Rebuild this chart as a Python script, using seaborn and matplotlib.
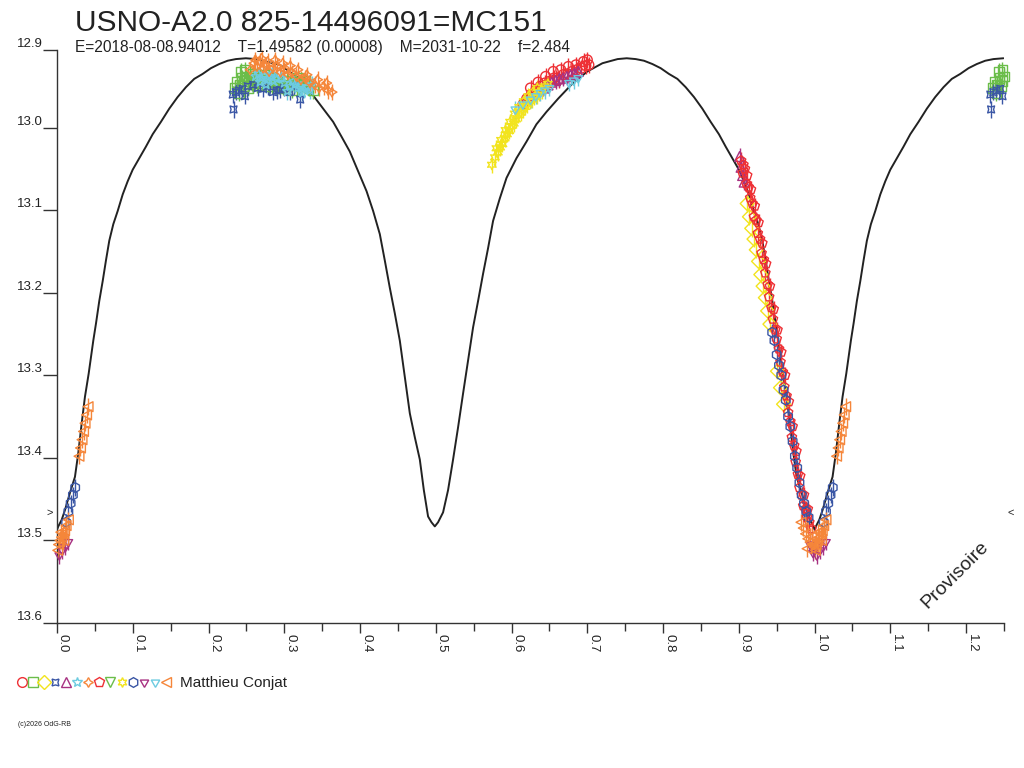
import pandas as pd
import seaborn as sns
import matplotlib.pyplot as plt
from matplotlib.lines import Line2D
from matplotlib.ticker import MultipleLocator, FormatStrFormatter, FixedLocator, FixedFormatter

# model light curve over one cycle (phase, magnitude)
curve_phase = [0.0000, 0.0017, 0.0062, 0.0106, 0.0172, 0.0237, 0.0281, 0.0326, 0.0369, 0.0418,
               0.0449, 0.0479, 0.0515, 0.0558, 0.0603, 0.0646, 0.0690, 0.0743, 0.0801, 0.0867,
               0.0933, 0.0999, 0.1086, 0.1174, 0.1263, 0.1372, 0.1482, 0.1592, 0.1702, 0.1811,
               0.1922, 0.2032, 0.2141, 0.2252, 0.2361, 0.2493, 0.2625, 0.2942, 0.3206, 0.3381,
               0.3513, 0.3645, 0.3756, 0.3865, 0.3975, 0.4086, 0.4173, 0.4261, 0.4327, 0.4393,
               0.4459, 0.4525, 0.4591, 0.4657, 0.4723, 0.4789, 0.4842, 0.4898, 0.4943, 0.4987,
               0.5030, 0.5096, 0.5162, 0.5228, 0.5294, 0.5360, 0.5426, 0.5492, 0.5558, 0.5624,
               0.5690, 0.5756, 0.5844, 0.5933, 0.6065, 0.6197, 0.6328, 0.6460, 0.6614, 0.6800,
               0.7000, 0.7200, 0.7400, 0.7520, 0.7639, 0.7748, 0.7859, 0.7968, 0.8078, 0.8189,
               0.8298, 0.8408, 0.8518, 0.8628, 0.8737, 0.8826, 0.8914, 0.9001, 0.9067, 0.9133,
               0.9199, 0.9257, 0.9310, 0.9354, 0.9397, 0.9442, 0.9485, 0.9521, 0.9551, 0.9582,
               0.9631, 0.9674, 0.9719, 0.9763, 0.9828, 0.9894, 0.9938, 0.9983, 1.0000]
curve_mag = [13.487, 13.483, 13.475, 13.463, 13.442, 13.423, 13.394, 13.358, 13.326, 13.298,
             13.278, 13.258, 13.237, 13.210, 13.186, 13.161, 13.137, 13.117, 13.101, 13.081,
             13.065, 13.051, 13.037, 13.023, 13.008, 12.993, 12.977, 12.963, 12.951, 12.941,
             12.935, 12.928, 12.923, 12.919, 12.917, 12.916, 12.917, 12.924, 12.941, 12.961,
             12.977, 12.993, 13.011, 13.029, 13.053, 13.077, 13.101, 13.129, 13.161, 13.194,
             13.225, 13.258, 13.302, 13.346, 13.375, 13.402, 13.439, 13.471, 13.478, 13.483,
             13.478, 13.466, 13.439, 13.402, 13.363, 13.322, 13.282, 13.242, 13.210, 13.177,
             13.146, 13.113, 13.086, 13.061, 13.037, 13.017, 12.996, 12.981, 12.965, 12.947,
             12.932, 12.922, 12.917, 12.916, 12.917, 12.919, 12.923, 12.928, 12.935, 12.941,
             12.951, 12.963, 12.977, 12.993, 13.008, 13.023, 13.037, 13.051, 13.065, 13.081,
             13.101, 13.117, 13.137, 13.161, 13.186, 13.210, 13.237, 13.258, 13.278, 13.298,
             13.326, 13.358, 13.394, 13.423, 13.442, 13.463, 13.475, 13.483, 13.487]

# observations, one pair of lists per observing series
red_o_phase = [0.615, 0.620, 0.626, 0.632, 0.638, 0.644, 0.650, 0.656, 0.662, 0.668,
               0.674, 0.680, 0.686, 0.692, 0.698, 0.702, 0.625, 0.635, 0.645, 0.655,
               0.665, 0.675, 0.685, 0.695, 0.700]
red_o_mag = [12.972, 12.965, 12.960, 12.955, 12.950, 12.946, 12.944, 12.940, 12.942, 12.936,
             12.935, 12.932, 12.930, 12.928, 12.925, 12.924, 12.952, 12.945, 12.938, 12.932,
             12.930, 12.926, 12.924, 12.920, 12.918]

green_phase = [0.235, 0.238, 0.241, 0.244, 0.247, 0.250, 0.253, 0.256, 0.259, 0.262,
               0.266, 0.270, 0.274, 0.278, 0.283, 0.288, 0.293, 0.298, 0.303, 0.308,
               0.314, 0.320, 0.326, 0.332, 0.338, 0.240, 0.246, 0.252, 0.258, 0.264,
               0.272, 0.280, 0.290, 0.300, 0.310, 0.318, 0.328, 0.243, 0.248]
green_mag = [12.952, 12.945, 12.948, 12.940, 12.944, 12.938, 12.946, 12.940, 12.935, 12.943,
             12.938, 12.942, 12.936, 12.945, 12.940, 12.944, 12.947, 12.950, 12.943, 12.948,
             12.945, 12.950, 12.947, 12.952, 12.955, 12.958, 12.950, 12.952, 12.946, 12.948,
             12.946, 12.950, 12.952, 12.950, 12.954, 12.940, 12.944, 12.932, 12.930]

yellow_d_phase = [0.911, 0.914, 0.917, 0.920, 0.923, 0.926, 0.929, 0.932, 0.935, 0.938,
                  0.941, 0.951, 0.955, 0.959]
yellow_d_mag = [13.092, 13.108, 13.122, 13.135, 13.148, 13.162, 13.178, 13.192, 13.206, 13.222,
                13.238, 13.295, 13.315, 13.335]

blue_x_phase = [0.232, 0.233, 0.236, 0.240, 0.245, 0.248, 0.252, 0.259, 0.265, 0.272,
                0.278, 0.285, 0.290, 0.294, 0.300, 0.307, 0.313, 0.321]
blue_x_mag = [12.960, 12.978, 12.957, 12.955, 12.953, 12.962, 12.950, 12.948, 12.952, 12.953,
              12.950, 12.957, 12.955, 12.954, 12.952, 12.957, 12.950, 12.966]

purple_t_phase = [0.901, 0.903, 0.905, 0.907, 0.642, 0.648, 0.653, 0.658, 0.663, 0.668,
                  0.673, 0.678, 0.683, 0.688]
purple_t_mag = [13.035, 13.048, 13.058, 13.066, 12.952, 12.948, 12.945, 12.943, 12.941, 12.940,
                12.938, 12.936, 12.934, 12.932]

cyan_s_phase = [0.262, 0.266, 0.270, 0.274, 0.278, 0.282, 0.286, 0.290, 0.300, 0.308,
                0.314, 0.318, 0.322, 0.326, 0.330, 0.334, 0.268, 0.276, 0.284, 0.296,
                0.304, 0.312, 0.324, 0.336]
cyan_s_mag = [12.938, 12.935, 12.940, 12.937, 12.942, 12.938, 12.944, 12.941, 12.946, 12.950,
              12.948, 12.952, 12.950, 12.954, 12.951, 12.955, 12.945, 12.948, 12.935, 12.940,
              12.956, 12.944, 12.958, 12.948]

orange_s_phase = [0.255, 0.260, 0.264, 0.268, 0.272, 0.276, 0.280, 0.285, 0.290, 0.295,
                  0.300, 0.305, 0.310, 0.316, 0.322, 0.328, 0.334, 0.340, 0.346, 0.352,
                  0.358, 0.363, 0.262, 0.270, 0.278, 0.288, 0.298, 0.308, 0.318, 0.330,
                  0.344, 0.356]
orange_s_mag = [12.930, 12.922, 12.926, 12.920, 12.928, 12.925, 12.932, 12.928, 12.926, 12.933,
                12.930, 12.936, 12.934, 12.938, 12.942, 12.940, 12.946, 12.948, 12.952, 12.950,
                12.955, 12.957, 12.918, 12.916, 12.920, 12.918, 12.922, 12.925, 12.930, 12.936,
                12.942, 12.946]

red_p_phase = [0.903, 0.905, 0.908, 0.910, 0.913, 0.915, 0.918, 0.920, 0.923, 0.925,
               0.928, 0.930, 0.933, 0.935, 0.938, 0.940, 0.943, 0.945, 0.948, 0.950,
               0.953, 0.955, 0.958, 0.960, 0.963, 0.965, 0.968, 0.970, 0.973, 0.975,
               0.978, 0.980, 0.983, 0.985, 0.988, 0.990, 0.993, 0.996, 0.906, 0.911,
               0.916, 0.921, 0.926, 0.931, 0.936, 0.941, 0.946, 0.951, 0.956, 0.961,
               0.966, 0.971, 0.976, 0.981, 0.986, 0.991]
red_p_mag = [13.040, 13.055, 13.050, 13.068, 13.072, 13.085, 13.092, 13.108, 13.112, 13.128,
             13.135, 13.152, 13.160, 13.176, 13.190, 13.205, 13.218, 13.232, 13.245, 13.256,
             13.268, 13.284, 13.296, 13.314, 13.325, 13.345, 13.356, 13.375, 13.385, 13.405,
             13.420, 13.436, 13.445, 13.458, 13.462, 13.472, 13.478, 13.486, 13.045, 13.058,
             13.075, 13.095, 13.115, 13.140, 13.165, 13.192, 13.220, 13.245, 13.272, 13.300,
             13.332, 13.362, 13.392, 13.422, 13.445, 13.462]

yellow_s_phase = [0.574, 0.578, 0.582, 0.585, 0.588, 0.591, 0.594, 0.597, 0.600, 0.603,
                  0.606, 0.609, 0.612, 0.615, 0.618, 0.621, 0.624, 0.627, 0.630, 0.633,
                  0.636, 0.640, 0.580, 0.586, 0.592, 0.598, 0.604, 0.610, 0.616, 0.622,
                  0.628, 0.634, 0.644, 0.648]
yellow_s_mag = [13.045, 13.036, 13.030, 13.024, 13.020, 13.013, 13.008, 13.004, 12.998, 12.995,
                12.990, 12.985, 12.982, 12.978, 12.975, 12.972, 12.968, 12.966, 12.963, 12.962,
                12.958, 12.955, 13.025, 13.015, 13.003, 12.993, 12.983, 12.975, 12.968, 12.962,
                12.957, 12.952, 12.950, 12.947]

blue_h_phase = [0.944, 0.947, 0.950, 0.953, 0.956, 0.959, 0.962, 0.965, 0.968, 0.971,
                0.974, 0.977, 0.980, 0.983, 0.986, 0.989, 0.992, 0.012, 0.015, 0.018,
                0.021, 0.024]
blue_h_mag = [13.248, 13.258, 13.275, 13.288, 13.300, 13.318, 13.330, 13.350, 13.362, 13.380,
              13.398, 13.412, 13.430, 13.445, 13.455, 13.465, 13.472, 13.478, 13.465, 13.455,
              13.445, 13.436]

purple_y_phase = [0.994, 0.998, 0.003, 0.007, 0.011, 0.015]
purple_y_mag = [13.505, 13.515, 13.518, 13.512, 13.508, 13.502]

cyan_y_phase = [0.605, 0.615, 0.625, 0.632, 0.638, 0.644, 0.650, 0.676, 0.682, 0.688]
cyan_y_mag = [12.978, 12.972, 12.966, 12.962, 12.958, 12.955, 12.952, 12.946, 12.943, 12.940]

orange_t_phase = [0.982, 0.985, 0.988, 0.991, 0.994, 0.997, 0.999, 0.002, 0.004, 0.006,
                  0.008, 0.010, 0.012, 0.015, 0.029, 0.031, 0.033, 0.035, 0.037, 0.039,
                  0.041, 0.990, 0.996, 0.001, 0.005, 0.009]
orange_t_mag = [13.478, 13.485, 13.492, 13.498, 13.502, 13.505, 13.508, 13.505, 13.500, 13.496,
                13.492, 13.488, 13.482, 13.475, 13.398, 13.388, 13.378, 13.368, 13.358, 13.348,
                13.338, 13.510, 13.495, 13.512, 13.490, 13.500]

obs_err = 0.010
min_mark = 13.466

# magnitude axis: the top edge sits a little below 12.9 but carries the "12.9" label
mag_top, mag_bottom = 12.906, 13.6
mag_ticks = [12.906, 13.0, 13.1, 13.2, 13.3, 13.4, 13.5, 13.6]
mag_labels = ["12.9", "13.0", "13.1", "13.2", "13.3", "13.4", "13.5", "13.6"]

title = "USNO-A2.0 825-14496091=MC151"
subtitle = "E=2018-08-08.94012    T=1.49582 (0.00008)    M=2031-10-22    f=2.484"
observer = "Matthieu Conjat"

RED, GREEN, YELLOW, BLUE = "#ee3035", "#6bbd4a", "#f2e41e", "#3a56a5"
PURPLE, CYAN, ORANGE = "#a83282", "#6dcbe0", "#f5863a"

# legend order of the 14 series: (colour, marker, data)
SERIES = [
    (RED, "o", red_o_phase, red_o_mag),
    (GREEN, "s", green_phase, green_mag),
    (YELLOW, "D", yellow_d_phase, yellow_d_mag),
    (BLUE, (4, 1, 45), blue_x_phase, blue_x_mag),
    (PURPLE, "^", purple_t_phase, purple_t_mag),
    (CYAN, "*", cyan_s_phase, cyan_s_mag),
    (ORANGE, (4, 1, 0), orange_s_phase, orange_s_mag),
    (RED, "p", red_p_phase, red_p_mag),
    (GREEN, "v", [], []),
    (YELLOW, (6, 1, 0), yellow_s_phase, yellow_s_mag),
    (BLUE, "h", blue_h_phase, blue_h_mag),
    (PURPLE, (3, 1, 180), purple_y_phase, purple_y_mag),
    (CYAN, (3, 1, 180), cyan_y_phase, cyan_y_mag),
    (ORANGE, "<", orange_t_phase, orange_t_mag),
]


def repeat_cycle(df):
    # the chart shows phases 0..1.25: the first quarter cycle is drawn again after 1.0
    return pd.concat([df, df[df["phase"] <= 0.25].assign(phase=lambda d: d["phase"] + 1)])


sns.set_theme(style="white")
plt.rcParams["font.family"] = ["Liberation Sans", "DejaVu Sans"]

fig = plt.figure(figsize=(10.24, 7.68), dpi=100)
ax = fig.add_axes([57 / 1024, 1 - 623 / 768, 947 / 1024, 573 / 768])

curve = repeat_cycle(pd.DataFrame({"phase": curve_phase, "mag": curve_mag}))
curve = curve.drop_duplicates("phase").sort_values("phase")
sns.lineplot(data=curve, x="phase", y="mag", sort=False, estimator=None,
             color="#222222", linewidth=1.4, ax=ax, zorder=1)

for color, marker, ph, mg in SERIES:
    if not ph:
        continue
    df = repeat_cycle(pd.DataFrame({"phase": ph, "mag": mg}))
    ax.errorbar(df["phase"], df["mag"], yerr=obs_err, fmt="none", ecolor=color,
                elinewidth=1, capsize=0, zorder=2, clip_on=False)
    sns.scatterplot(data=df, x="phase", y="mag", marker=marker, s=50, ax=ax,
                    legend=False, zorder=3, clip_on=False)
    pts = ax.collections[-1]
    pts.set_facecolor("none")
    pts.set_edgecolor(color)
    pts.set_linewidth(1.0)

ax.set_xlim(0, 1.25)
ax.set_ylim(mag_bottom, mag_top)
ax.set_xlabel("")
ax.set_ylabel("")
for side in ["top", "right"]:
    ax.spines[side].set_visible(False)
for side in ["left", "bottom"]:
    ax.spines[side].set_color("#333333")
    ax.spines[side].set_linewidth(1)

ax.xaxis.set_major_locator(MultipleLocator(0.1))
ax.xaxis.set_minor_locator(MultipleLocator(0.05))
ax.xaxis.set_major_formatter(FormatStrFormatter("%.1f"))
ax.yaxis.set_major_locator(FixedLocator(mag_ticks))
ax.yaxis.set_major_formatter(FixedFormatter(mag_labels))
ax.tick_params(axis="x", which="major", length=7.2, width=1, color="#333333",
               direction="out", pad=1, labelsize=9.5, labelcolor="#222222", bottom=True)
ax.tick_params(axis="x", which="minor", length=5.8, width=1, color="#333333",
               direction="out", bottom=True)
ax.tick_params(axis="y", which="major", length=10, width=1, color="#333333",
               direction="out", pad=0, labelsize=9.5, labelcolor="#222222", left=True)
plt.setp(ax.get_xticklabels(), rotation=270, ha="left", va="top")
plt.setp(ax.get_yticklabels(), ha="right", va="bottom")

ax.annotate(">", xy=(0, min_mark), xytext=(-5, 0), textcoords="offset points",
            ha="center", va="center", fontsize=8, color="#222222")
ax.annotate("<", xy=(1.25, min_mark), xytext=(5, 0), textcoords="offset points",
            ha="center", va="center", fontsize=8, color="#222222", annotation_clip=False)

fig.text(75 / 1024, 1 - 31 / 768, title, fontsize=21.5, color="#222222", va="baseline")
fig.text(75 / 1024, 1 - 52 / 768, subtitle, fontsize=11.2, color="#222222", va="baseline")
fig.text(955 / 1024, 1 - 575 / 768, "Provisoire", rotation=45, fontsize=14,
         color="#222222", ha="center", va="center")

handles = [Line2D([0], [0], linestyle="none", marker=m, markersize=7,
                  markerfacecolor="none", markeredgecolor=c, markeredgewidth=1)
           for c, m, _, _ in SERIES]
fig.legend(handles=handles, labels=[""] * len(handles), loc="center left",
           bbox_to_anchor=(16 / 1024, 1 - 683 / 768), ncol=len(handles), frameon=False,
           handlelength=0.8, handletextpad=0.0, columnspacing=0.0, borderpad=0,
           borderaxespad=0, fontsize=10)
fig.text(180 / 1024, 1 - 683 / 768, observer, fontsize=11, color="#222222", va="center")
fig.text(18 / 1024, 1 - 725 / 768, "(c)2026 OdG-RB", fontsize=5, color="#222222",
         va="center")

fig.savefig("out.png", dpi=100)
